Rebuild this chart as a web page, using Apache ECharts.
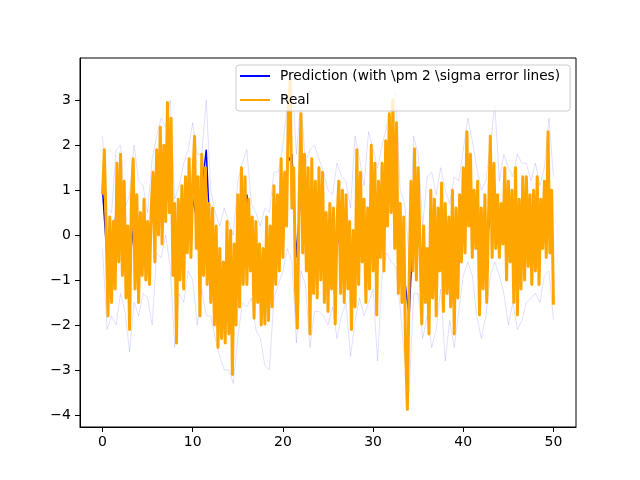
<!DOCTYPE html>
<html>
<head>
<meta charset="utf-8">
<script src="https://cdn.jsdelivr.net/npm/echarts@6/dist/echarts.min.js"></script>
<style>
  html, body { margin: 0; padding: 0; background: #fff; }
  #chart { width: 640px; height: 480px; }
</style>
</head>
<body>
<div id="chart"></div>
<script>
// real values, x = 0 .. 50 step 0.2
const realStep = 0.2;
const realVals = [
  0.9, 1.9, 0.2, -1.8, 0.4,
  -1.5, 0.3, -1.2, 1.6, -0.6,
  1.8, -0.9, 1.2, -1.4, 0.2,
  -2.1, 0.8, 1.7, -1.2, 0.9,
  -1.5, 0.5, -0.9, 0.8, -1.0,
  0.3, -1.1, 0.6, 1.4, -0.6,
  1.9, 0.0, 2.4, -0.2, 2.0,
  0.3, 2.95, 0.5, 2.6, -0.9,
  0.7, -2.4, 0.8, -1.0, 1.1,
  -1.2, 1.3, -0.4, 1.7, -0.5,
  1.2, 2.2, -0.3, 1.3, -1.8,
  1.8, -0.9, 1.5, -1.1, 0.7,
  -1.5, 0.6, -2.0, 0.2, -2.5,
  -0.3, -2.3, -0.6, -2.4, 0.3,
  -2.2, 0.1, -3.1, -0.2, -2.0,
  0.9, -1.6, 1.5, -1.1, 1.3,
  -1.1, 0.8, -0.8, 0.4, -1.85,
  0.3, -1.5, -0.2, -2.0, -0.3,
  -1.98, 0.4, -1.9, 0.2, -1.6,
  1.1, -1.1, 0.9, -0.8, 1.7,
  -0.5, 1.4, 0.2, 2.7, 3.45,
  0.6, 1.5, -1.2, -2.07, 0.8,
  2.7, -0.4, 1.8, -0.8, 1.5,
  -2.2, 1.7, -1.3, 1.2, -1.4,
  1.5, -1.0, 1.4, -1.5, 0.5,
  -1.7, 0.7, -1.2, 0.6, -1.98,
  0.3, 1.2, -1.3, 1.0, -1.5,
  0.9, -1.2, 0.3, -2.1, 0.1,
  -1.6, 1.9, -1.1, 1.4, -0.6,
  0.8, -1.5, 0.6, -1.2, 2.0,
  -0.8, 1.6, -1.78, 1.2, -0.5,
  1.6, -0.8, 2.1, 0.2, 2.7,
  0.5, 3.0, -0.3, 2.5, -1.3,
  0.7, -1.5, 0.4, -2.5, -3.88,
  -1.0, 1.2, -0.8, 1.92, -1.0,
  1.5, -0.2, -1.98, 0.2, -1.5,
  -0.3, -2.2, 1.0, -1.4, 0.8,
  -1.8, 0.6, -0.8, 1.16, -1.7,
  0.7, -1.3, 0.4, -1.6, 1.0,
  -2.2, 0.6, -1.4, 0.9, -0.6,
  1.5, -0.4, 2.3, 0.2, 1.8,
  -0.5, 1.0, -0.3, 1.2, -1.78,
  0.6, -1.2, 0.9, -1.5, 0.4,
  2.2, -0.5, 1.6, -0.3, 0.9,
  -0.5, 0.7, -0.2, 1.5, -1.0,
  1.2, -0.6, 1.0, -1.5, 1.5,
  -1.78, 0.8, -1.2, 1.3, -1.0,
  1.3, -0.7, 0.9, -1.1, 1.0,
  -0.8, 1.3, -1.1, 0.8, -0.3,
  1.2, -0.5, 2.3, -0.4, 1.0,
  -1.55
];

// prediction and error lines, x = 0 .. 50 step 0.5
const predStep = 0.5;
const predVals = [
  1.0, -0.5, -0.6, 0.5, 0.4, -0.6, -0.6, 0.3, -0.3, -0.1,
  -0.4, 0.4, 1.0, 1.1, 1.4, 1.5, -0.6, 0.0, 0.1, 0.6,
  0.8, 0.3, 1.0, 1.9, -0.4, -0.9, -1.3, -1.1, -1.4, -1.6,
  -0.3, 0.2, 0.9, -0.5, -0.7, -1.1, -0.8, -0.8, 0.0, 0.2,
  0.5, 1.6, 1.8, -0.5, 1.0, 0.4, -0.3, 0.1, 0.2, -0.2,
  -0.4, -0.5, -0.2, 0.0, -0.1, -0.8, 0.0, 0.3, -0.2, 0.2,
  0.3, -0.2, 0.4, 1.0, 1.2, 1.1, -0.3, -1.0, -1.8, 0.5,
  0.2, -0.8, -0.6, -0.3, -0.3, -0.1, -0.3, -0.4, -0.4, -0.2,
  0.5, 0.9, 0.3, 0.2, -0.3, -0.4, 0.5, 0.9, 0.2, 0.3,
  0.1, -0.1, -0.2, 0.0, 0.2, 0.0, 0.1, 0.0, 0.3, 0.5,
  -0.3
];
const upperVals = [
  2.2, 0.6, 0.5, 1.9, 2.0, 0.6, 0.9, 2.0, 1.2, 1.1,
  0.5, 1.7, 2.2, 2.6, 2.4, 3.0, 0.8, 1.1, 1.6, 1.9,
  2.5, 1.8, 1.8, 3.0, 1.0, 0.5, 0.2, 0.6, 0.3, 0.0,
  1.2, 1.6, 1.9, 0.7, 0.5, 0.2, 0.6, 0.5, 1.4, 1.4,
  2.0, 2.9, 3.55, 1.8, 3.0, 1.6, 1.9, 2.0, 1.7, 1.4,
  1.0, 0.9, 1.6, 1.3, 1.2, 0.6, 2.2, 1.7, 1.1, 2.3,
  1.9, 1.5, 2.0, 2.4, 2.9, 3.2, 1.0, 0.7, -0.5, 2.2,
  1.8, 0.2, 1.3, 1.4, 0.9, 1.5, 1.0, 0.7, 1.3, 1.2,
  1.9, 2.6, 2.1, 1.5, 1.0, 1.2, 2.0, 2.9, 1.2, 1.8,
  1.5, 1.3, 1.8, 1.6, 1.6, 1.2, 1.6, 1.1, 1.5, 2.6,
  1.3
];
const lowerVals = [
  -0.3, -2.1, -1.8, -2.0, -1.3, -1.7, -2.6, -1.5, -1.8, -1.3,
  -1.4, -2.0, -0.4, -0.5, 0.0, -0.7, -2.5, -1.3, -1.5, -0.8,
  -1.0, -2.0, -1.2, -1.8, -1.8, -2.3, -2.7, -3.0, -3.0, -3.3,
  -2.3, -1.5, -1.6, -1.4, -2.1, -2.3, -2.9, -3.0, -1.4, -1.1,
  -0.8, -0.3, -0.6, -2.4, -0.8, -1.1, -2.5, -1.7, -1.7, -1.8,
  -2.0, -1.6, -2.3, -1.8, -1.5, -2.7, -1.9, -1.4, -1.8, -1.5,
  -1.2, -2.8, -0.9, -0.4, -0.6, -0.7, -1.6, -2.8, -3.5, -1.3,
  -1.3, -2.3, -1.8, -2.5, -2.1, -1.2, -2.8, -1.9, -2.5, -1.7,
  -0.9, -0.6, -0.9, -1.8, -2.3, -1.8, -0.9, -0.6, -0.9, -1.3,
  -2.0, -1.5, -2.1, -1.9, -1.5, -1.4, -1.3, -1.5, -0.9, -0.8,
  -1.9
];

const xTicks = [0, 10, 20, 30, 40, 50];
const yTicks = [-4, -3, -2, -1, 0, 1, 2, 3];

const predName = "Prediction (with \\pm 2 \\sigma error lines)";
const realName = "Real";

function pairs(vals, step) {
  return vals.map((v, i) => [+(i * step).toFixed(2), v]);
}

const myChart = echarts.init(document.getElementById("chart"), null, { renderer: "canvas" });
const font = "DejaVu Sans";
const minus = v => String(v).replace("-", "\u2212");

const options = {
  animation: false,
  backgroundColor: "#fff",
  textStyle: { fontFamily: font },
  grid: {
    left: 80,
    right: 64,
    top: 58,
    bottom: 53,
    show: true,
    borderColor: "#000",
    borderWidth: 1,
    backgroundColor: "transparent",
    outerBoundsMode: "none"
  },
  legend: {
    data: [predName, realName],
    orient: "vertical",
    left: 236,
    top: 65,
    icon: "rect",
    itemWidth: 30,
    itemHeight: 2,
    itemGap: 10,
    padding: [4, 10, 4, 4],
    backgroundColor: "rgba(255,255,255,0.8)",
    borderColor: "#cccccc",
    borderWidth: 1,
    borderRadius: 3,
    textStyle: { fontFamily: font, fontSize: 13.7, color: "#000", padding: [0, 0, 0, 5] }
  },
  xAxis: {
    type: "value",
    min: -2.5,
    max: 52.5,
    axisLine: { show: true, onZero: false, lineStyle: { color: "#000", width: 1 } },
    axisTick: { show: true, length: 5, lineStyle: { color: "#000" }, customValues: xTicks },
    axisLabel: { fontFamily: font, fontSize: 14, color: "#000", margin: 8, customValues: xTicks },
    splitLine: { show: false }
  },
  yAxis: {
    type: "value",
    min: -4.27,
    max: 3.94,
    axisLine: { show: true, onZero: false, lineStyle: { color: "#000", width: 1 } },
    axisTick: { show: true, length: 5, lineStyle: { color: "#000" }, customValues: yTicks },
    axisLabel: { fontFamily: font, fontSize: 14, color: "#000", margin: 9, customValues: yTicks, formatter: minus },
    splitLine: { show: false }
  },
  series: [
    {
      name: predName,
      type: "line",
      data: pairs(predVals, predStep),
      showSymbol: false,
      symbol: "none",
      lineStyle: { color: "#0000ff", width: 1.5 },
      itemStyle: { color: "#0000ff" },
      z: 2
    },
    {
      name: "upper",
      type: "line",
      data: pairs(upperVals, predStep),
      symbol: "none",
      silent: true,
      lineStyle: { color: "#0000ff", width: 0.5, opacity: 0.25 },
      z: 2
    },
    {
      name: "lower",
      type: "line",
      data: pairs(lowerVals, predStep),
      symbol: "none",
      silent: true,
      lineStyle: { color: "#0000ff", width: 0.5, opacity: 0.25 },
      z: 2
    },
    {
      name: realName,
      type: "line",
      data: pairs(realVals, realStep),
      showSymbol: false,
      symbol: "none",
      lineStyle: { color: "#ffa500", width: 3, join: "round" },
      itemStyle: { color: "#ffa500" },
      z: 3
    }
  ]
};
myChart.setOption(options);
</script>
</body>
</html>
